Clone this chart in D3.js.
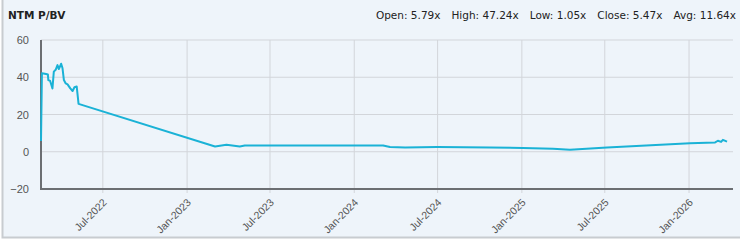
<!DOCTYPE html>
<html>
<head>
<meta charset="utf-8">
<script src="https://cdn.jsdelivr.net/npm/d3@7"></script>
<style>
  body { margin: 0; background: #fff; }
  svg { display: block; font-family: "DejaVu Sans", Verdana, sans-serif; }
  .tick text { fill: #555; }
</style>
</head>
<body>
<svg width="740" height="240"></svg>
<script>
const dates = [
  "2022-02-16", "2022-02-18", "2022-02-27", "2022-03-03", "2022-03-04", "2022-03-08",
  "2022-03-13", "2022-03-16", "2022-03-20", "2022-03-24", "2022-03-27", "2022-04-01",
  "2022-04-04", "2022-04-07", "2022-04-11", "2022-04-15", "2022-04-21", "2022-04-26",
  "2022-04-30", "2022-05-05", "2022-05-09", "2023-03-03", "2023-03-28", "2023-04-26",
  "2023-05-07", "2023-09-04", "2024-03-04", "2024-03-19", "2024-04-21", "2024-06-30",
  "2024-10-23", "2025-01-03", "2025-03-10", "2025-04-16", "2025-07-06", "2026-01-03",
  "2026-02-27", "2026-03-05", "2026-03-12", "2026-03-16", "2026-03-25"
];
const values = [
  5.79, 42.2, 41.7, 41.5, 38.5, 38.0,
  34.0, 43.0, 44.0, 46.5, 44.4, 47.24,
  44.8, 38.5, 36.7, 36.2, 34.0, 32.6,
  34.6, 35.0, 25.7, 2.8, 3.7, 2.8,
  3.4, 3.4, 3.4, 2.5, 2.3, 2.5,
  2.3, 2.0, 1.6, 1.1, 2.3, 4.6,
  5.0, 5.9, 5.3, 6.4, 5.47
];
const yTicks = [-20, 0, 20, 40, 60];
const xTickDates = ["2022-07-01", "2023-01-01", "2023-07-01", "2024-01-01",
  "2024-07-01", "2025-01-01", "2025-07-01", "2026-01-01"];
const statLabels = ["Open", "High", "Low", "Close", "Avg"];
const statValues = ["5.79x", "47.24x", "1.05x", "5.47x", "11.64x"];

const svg = d3.select("svg");
const w = +svg.attr("width");
const h = +svg.attr("height");
const margin = { top: 40, right: 7, bottom: 51, left: 41 };
const parse = d3.timeParse("%Y-%m-%d");
const fmt = d3.timeFormat("%b-%Y");

// panel background + frame
svg.append("rect")
  .attr("x", 2.5).attr("y", -5)
  .attr("width", w + 10).attr("height", h - 2.5 + 5)
  .attr("fill", "#eef4fa")
  .attr("stroke", "#c8ccd0")
  .attr("stroke-width", 2);

const data = dates.map((d, i) => ({ date: parse(d), value: values[i] }));

const x = d3.scaleTime()
  .domain([parse("2022-02-16"), parse("2026-04-07")])
  .range([margin.left, w - margin.right]);

const y = d3.scaleLinear()
  .domain([-20, 60])
  .range([h - margin.bottom, margin.top]);

// grid
svg.append("g")
  .selectAll("line")
  .data(yTicks)
  .enter().append("line")
  .attr("x1", margin.left).attr("x2", w - margin.right)
  .attr("y1", d => y(d)).attr("y2", d => y(d))
  .attr("stroke", "#d2d5da")
  .attr("stroke-width", 1);

svg.append("g")
  .selectAll("line")
  .data(xTickDates)
  .enter().append("line")
  .attr("x1", d => x(parse(d))).attr("x2", d => x(parse(d)))
  .attr("y1", margin.top).attr("y2", h - margin.bottom + 4)
  .attr("stroke", "#d2d5da")
  .attr("stroke-width", 1);

// y axis labels
const yAxis = svg.append("g")
  .attr("transform", `translate(${margin.left}, 0)`)
  .call(d3.axisLeft(y).tickValues(yTicks).tickSize(0).tickPadding(12));
yAxis.select(".domain").remove();
yAxis.selectAll("text").style("font-size", "11px");

// x axis labels
const xAxis = svg.append("g")
  .attr("transform", `translate(0, ${h - margin.bottom})`)
  .call(d3.axisBottom(x).tickValues(xTickDates.map(parse)).tickFormat(fmt).tickSize(0));
xAxis.select(".domain").remove();
xAxis.selectAll("text")
  .style("font-size", "10.5px")
  .attr("text-anchor", "end")
  .attr("dy", 0)
  .attr("transform", "translate(2, 12) rotate(-45)");

// axis lines
svg.append("line")
  .attr("x1", margin.left).attr("x2", margin.left)
  .attr("y1", margin.top).attr("y2", h - margin.bottom + 1)
  .attr("stroke", "#6b6e72").attr("stroke-width", 2);
svg.append("line")
  .attr("x1", margin.left).attr("x2", w - margin.right)
  .attr("y1", h - margin.bottom).attr("y2", h - margin.bottom)
  .attr("stroke", "#6b6e72").attr("stroke-width", 2);

// series
svg.append("path")
  .datum(data)
  .attr("fill", "none")
  .attr("stroke", "#1ab2d6")
  .attr("stroke-width", 2)
  .attr("stroke-linejoin", "round")
  .attr("d", d3.line().x(d => x(d.date)).y(d => y(d.value)));

// title
svg.append("text")
  .attr("x", 8).attr("y", 19)
  .style("font-size", "10.5px")
  .style("font-weight", "bold")
  .attr("fill", "#222")
  .text("NTM P/BV");

// stats, laid out right to left
let right = 736;
for (let i = statLabels.length - 1; i >= 0; i--) {
  const t = svg.append("text")
    .attr("x", right).attr("y", 19)
    .attr("text-anchor", "end")
    .style("font-size", "10.5px")
    .attr("fill", "#222")
    .text(`${statLabels[i]}: ${statValues[i]}`);
  right -= t.node().getComputedTextLength() + 11;
}
</script>
</body>
</html>
